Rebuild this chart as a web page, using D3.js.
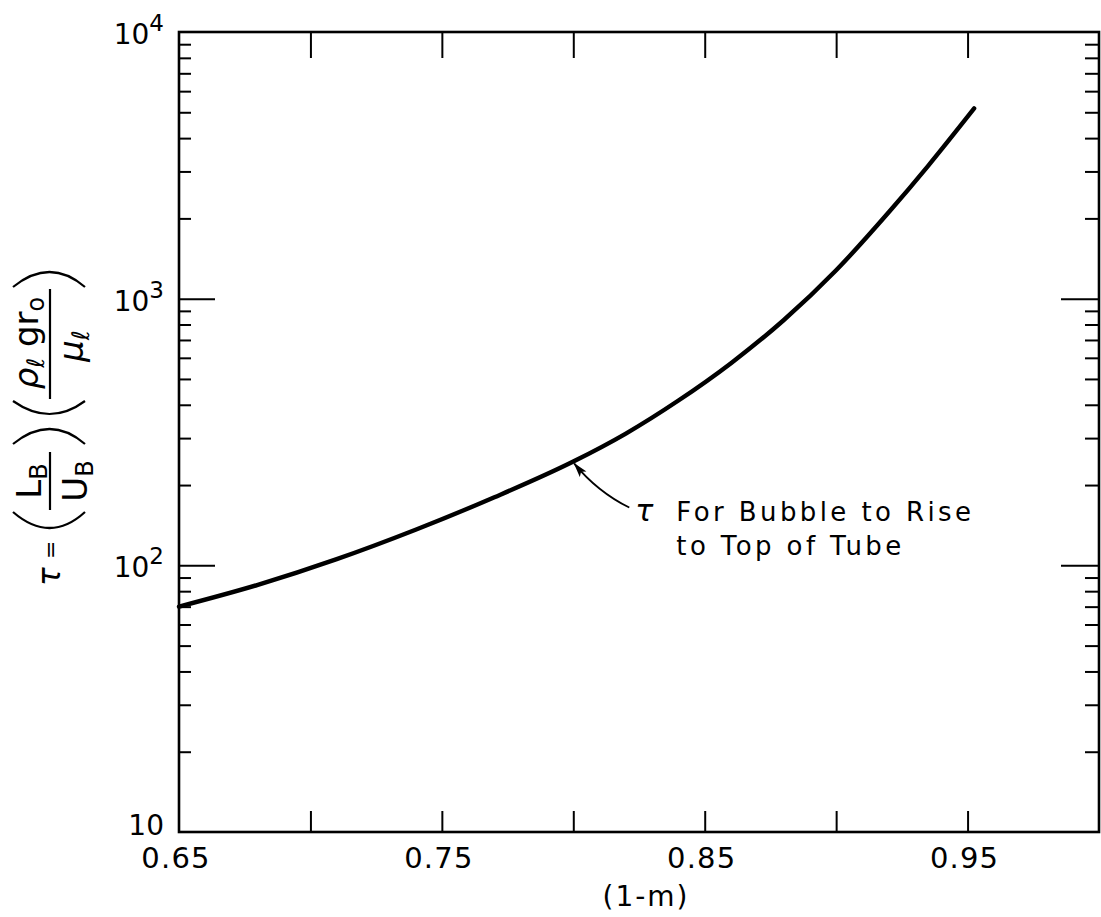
<!DOCTYPE html>
<html>
<head>
<meta charset="utf-8">
<script src="https://cdn.jsdelivr.net/npm/d3@7"></script>
<style>
  html, body { margin: 0; padding: 0; background: #fff; }
  svg { display: block; }
</style>
</head>
<body>
<svg id="chart" width="1101" height="917"></svg>
<script>
// Dimensionless rise time tau against (1-m)
const curveX   = [0.65, 0.68, 0.71, 0.74, 0.77, 0.80, 0.82, 0.84, 0.86, 0.88, 0.90, 0.92, 0.935, 0.9525];
const curveTau = [70, 84.5, 105.5, 136, 180, 245, 312, 415, 573, 830, 1278, 2108, 3150, 5170];

const xInnerTicks = [0.70, 0.75, 0.80, 0.85, 0.90, 0.95];
const xLabelValues = [0.65, 0.75, 0.85, 0.95];
const xLabelText = ["0.65", "0.75", "0.85", "0.95"];
const yDecades = [10, 100, 1000, 10000];
const yDecadeExp = ["", "2", "3", "4"];
const xTitle = "(1-m)";
const noteLines = ["For Bubble to Rise", "to Top of Tube"];
const noteSymbol = "τ";
const notePoint = [0.80, 245];

const FONT = "'DejaVu Sans', 'Liberation Sans', sans-serif";
const INK = "#000";

const svg = d3.select("#chart");
const W = 1101, H = 917;
const plot = { left: 179, right: 1099, top: 32, bottom: 832 };

const x = d3.scaleLinear().domain([0.65, 1.00]).range([plot.left, plot.right]);
const y = d3.scaleLog().domain([10, 10000]).range([plot.bottom, plot.top]);

svg.append("rect").attr("width", W).attr("height", H).attr("fill", "#fff");

// minor log ticks 2..9 within each decade
const minorTicks = [];
for (let d = 10; d < 10000; d *= 10) {
  for (let k = 2; k <= 9; k++) minorTicks.push(d * k);
}
const majorTicks = yDecades.filter(v => v > 10 && v < 10000);

function styleAxis(g) {
  g.select(".domain").remove();
  g.selectAll(".tick line").attr("stroke", INK).attr("stroke-width", 2);
  g.selectAll(".tick text").remove();
}

// x ticks, bottom (pointing up) and top (pointing down)
svg.append("g").attr("transform", `translate(0,${plot.bottom})`)
  .call(d3.axisBottom(x).tickValues(xInnerTicks).tickSize(-21)).call(styleAxis);
svg.append("g").attr("transform", `translate(0,${plot.top})`)
  .call(d3.axisTop(x).tickValues(xInnerTicks).tickSize(-26)).call(styleAxis);

// y ticks, left and right, pointing inward
svg.append("g").attr("transform", `translate(${plot.left},0)`)
  .call(d3.axisLeft(y).tickValues(majorTicks).tickSize(-36)).call(styleAxis);
svg.append("g").attr("transform", `translate(${plot.left},0)`)
  .call(d3.axisLeft(y).tickValues(minorTicks).tickSize(-12)).call(styleAxis);
svg.append("g").attr("transform", `translate(${plot.right},0)`)
  .call(d3.axisRight(y).tickValues(majorTicks).tickSize(-38)).call(styleAxis);
svg.append("g").attr("transform", `translate(${plot.right},0)`)
  .call(d3.axisRight(y).tickValues(minorTicks).tickSize(-14)).call(styleAxis);

// frame
svg.append("rect")
  .attr("x", plot.left).attr("y", plot.top)
  .attr("width", plot.right - plot.left).attr("height", plot.bottom - plot.top)
  .attr("fill", "none").attr("stroke", INK).attr("stroke-width", 2.6);

// x tick labels
svg.append("g").selectAll("text").data(xLabelValues).join("text")
  .attr("x", d => x(d) - 3).attr("y", plot.bottom + 36)
  .attr("text-anchor", "middle")
  .attr("font-family", FONT).attr("font-size", 29).attr("letter-spacing", 1.2)
  .attr("fill", INK)
  .text((d, i) => xLabelText[i]);

// y decade labels with exponents
const yl = svg.append("g").attr("font-family", FONT).attr("fill", INK);
yDecades.forEach((v, i) => {
  const t = yl.append("text")
    .attr("x", plot.left - 15)
    .attr("y", y(v) + (yDecadeExp[i] ? 12 : 3))
    .attr("text-anchor", "end");
  t.append("tspan").attr("font-size", 28).text("10");
  if (yDecadeExp[i]) {
    t.append("tspan").attr("font-size", 23).attr("dy", -13).text(yDecadeExp[i]);
  }
});

// x title
svg.append("text")
  .attr("x", 646).attr("y", 906).attr("text-anchor", "middle")
  .attr("font-family", FONT).attr("font-size", 28).attr("letter-spacing", 2)
  .attr("fill", INK).text(xTitle);

// y title: tau = (L_B / U_B)(rho_l g r_o / mu_l), set sideways
const yt = svg.append("g")
  .attr("transform", "translate(50,590) rotate(-90)")
  .attr("font-family", FONT).attr("fill", INK);

function paren(g, flatX, bulgeX) {
  const c = 2 * bulgeX - flatX;
  g.append("path")
    .attr("d", `M${flatX},-37 Q${c},0 ${flatX},35`)
    .attr("fill", "none").attr("stroke", INK).attr("stroke-width", 2.2);
}
function richText(g, cx, baseY, parts, big, small) {
  const t = g.append("text").attr("x", cx).attr("y", baseY).attr("text-anchor", "middle");
  let shift = 0;
  parts.forEach(p => {
    const s = t.append("tspan").text(p.t).attr("font-size", p.sub ? small : big);
    if (p.it) s.attr("font-style", "italic");
    const want = p.sub ? 6 : 0;
    if (want !== shift) { s.attr("dy", want - shift); shift = want; }
  });
  return t;
}
function bar(g, x0, x1) {
  g.append("line").attr("x1", x0).attr("x2", x1).attr("y1", 0).attr("y2", 0)
    .attr("stroke", INK).attr("stroke-width", 2.2);
}

yt.append("text").attr("x", 4).attr("y", 10).attr("font-size", 31)
  .attr("font-style", "italic").text("τ");
yt.append("text").attr("x", 31).attr("y", 8).attr("font-size", 22).text("=");

paren(yt, 78, 62);
bar(yt, 80, 138);
richText(yt, 109, -9, [{ t: "L" }, { t: "B", sub: true }], 34, 24);
richText(yt, 109, 37, [{ t: "U" }, { t: "B", sub: true }], 34, 24);
paren(yt, 146, 161);

paren(yt, 189, 176);
bar(yt, 191, 301);
richText(yt, 247, -12, [{ t: "ρ", it: true }, { t: "ℓ", sub: true, it: true }, { t: " g" }, { t: "r" }, { t: "o", sub: true }], 34, 24);
richText(yt, 244, 33, [{ t: "μ", it: true }, { t: "ℓ", sub: true, it: true }], 34, 24);
paren(yt, 303, 318);

// tau curve
const pts = curveX.map((v, i) => [x(v), y(curveTau[i])]);
svg.append("path")
  .attr("d", d3.line().curve(d3.curveMonotoneX)(pts))
  .attr("fill", "none").attr("stroke", INK).attr("stroke-width", 4.4)
  .attr("stroke-linecap", "round");

// annotation with curved leader arrow
const defs = svg.append("defs");
defs.append("marker").attr("id", "head")
  .attr("viewBox", "0 0 14 8").attr("refX", 13).attr("refY", 4)
  .attr("markerUnits", "userSpaceOnUse").attr("markerWidth", 15).attr("markerHeight", 9)
  .attr("orient", "auto")
  .append("path").attr("d", "M0,0 L14,4 L0,8 L3,4 Z").attr("fill", INK);

const ax = x(notePoint[0]), ay = y(notePoint[1]);
svg.append("path")
  .attr("d", `M${ax + 56},${ay + 46} Q${ax + 24},${ay + 30} ${ax + 1},${ay + 2}`)
  .attr("fill", "none").attr("stroke", INK).attr("stroke-width", 1.8)
  .attr("marker-end", "url(#head)");

const note = svg.append("g").attr("font-family", FONT).attr("fill", INK);
note.append("text").attr("x", ax + 62).attr("y", ay + 59)
  .attr("font-size", 30).attr("font-style", "italic").text(noteSymbol);
noteLines.forEach((line, i) => {
  note.append("text").attr("x", ax + 103).attr("y", ay + 59 + i * 34)
    .attr("font-size", 26).attr("letter-spacing", 3.4).text(line);
});
</script>
</body>
</html>
